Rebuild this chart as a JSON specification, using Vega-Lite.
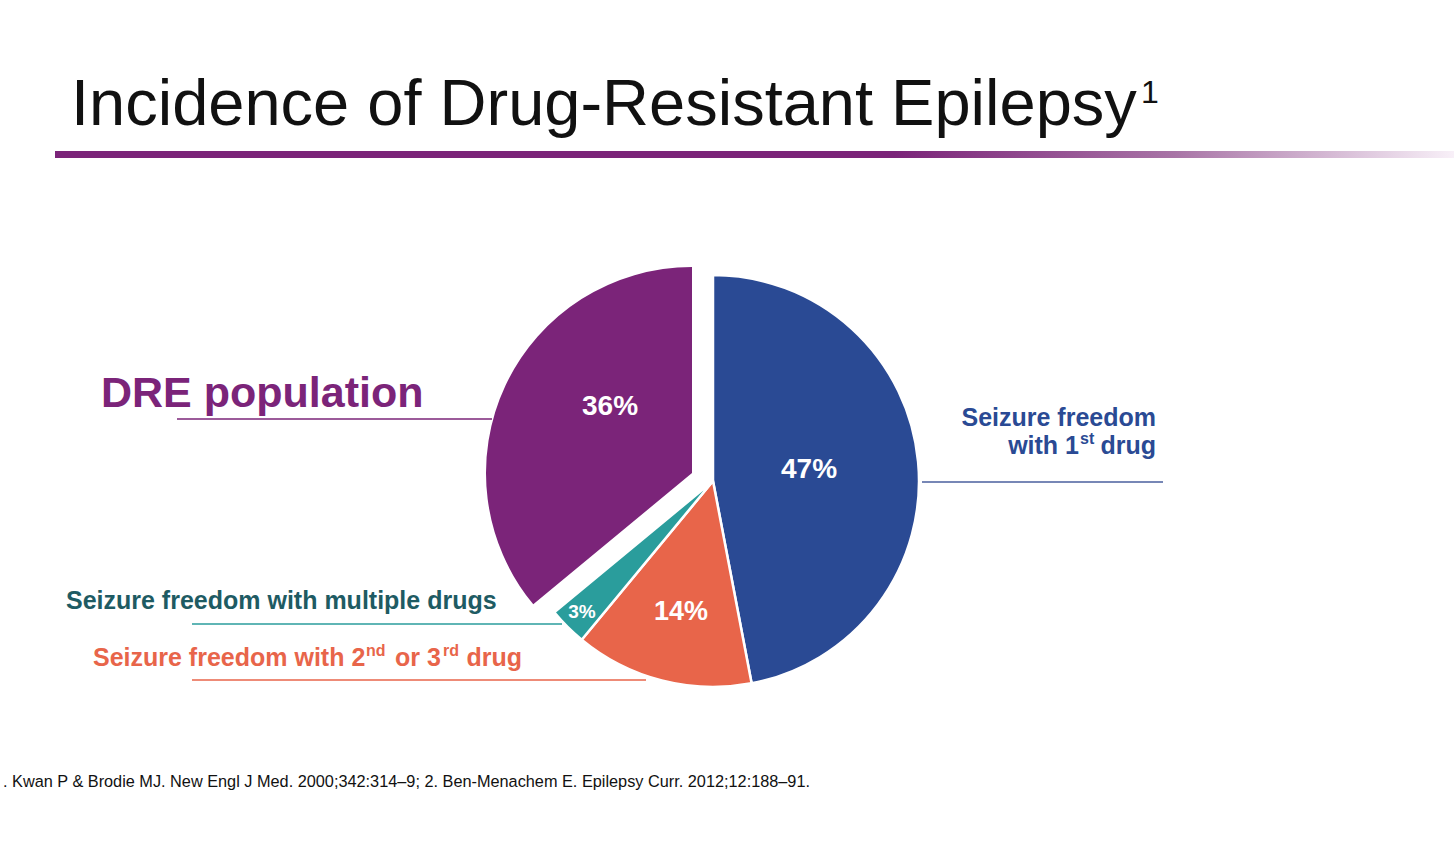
{
  "$schema": "https://vega.github.io/schema/vega-lite/v6.json",
  "width": 1454,
  "height": 857,
  "padding": 0,
  "autosize": {"type": "none"},
  "background": "#ffffff",
  "config": {"view": {"stroke": null}, "text": {"font": "Liberation Sans"}},
  "data": {
    "values": [
      {"category": "Seizure freedom with 1st drug", "value": 47, "order": 1, "pct": "47%"},
      {"category": "Seizure freedom with 2nd or 3rd drug", "value": 14, "order": 2, "pct": "14%"},
      {"category": "Seizure freedom with multiple drugs", "value": 3, "order": 3, "pct": "3%"},
      {"category": "DRE population", "value": 36, "order": 4, "pct": "36%"}
    ]
  },
  "layer": [
    {
      "transform": [{"filter": "datum.order == 1"}],
      "mark": {"type": "rect", "fill": {"gradient": "linear", "x1": 0, "x2": 1, "y1": 0, "y2": 0, "stops": [{"offset": 0, "color": "#7b2479"}, {"offset": 0.6, "color": "#7b2479"}, {"offset": 0.8, "color": "#a874a6"}, {"offset": 1, "color": "#f8f0f8"}]}},
      "encoding": {
        "x": {"datum": 55, "type": "quantitative", "scale": {"domain": [0, 1454], "nice": false, "zero": false}, "axis": null},
        "x2": {"datum": 1454},
        "y": {"datum": 151, "type": "quantitative", "scale": {"domain": [0, 857], "nice": false, "zero": false, "reverse": true}, "axis": null},
        "y2": {"datum": 158}
      }
    },
    {
      "transform": [{"filter": "datum.order == 1"}],
      "mark": {"type": "text", "align": "left", "baseline": "alphabetic", "fontSize": 65, "color": "#111111"},
      "encoding": {
        "x": {"datum": 71, "type": "quantitative"},
        "y": {"datum": 125, "type": "quantitative"},
        "text": {"value": "Incidence of Drug-Resistant Epilepsy"}
      }
    },
    {
      "transform": [{"filter": "datum.order == 1"}],
      "mark": {"type": "text", "align": "left", "baseline": "alphabetic", "fontSize": 32, "color": "#111111"},
      "encoding": {
        "x": {"datum": 1141, "type": "quantitative"},
        "y": {"datum": 103, "type": "quantitative"},
        "text": {"value": "1"}
      }
    },
    {
      "transform": [
        {"stack": "value", "groupby": [], "sort": [{"field": "order", "order": "ascending"}], "as": ["v0", "v1"]},
        {"filter": "datum.order < 4"}
      ],
      "mark": {"type": "arc", "radius": 206, "stroke": "#ffffff", "strokeWidth": 2.5},
      "encoding": {
        "x": {"datum": 713, "type": "quantitative"},
        "y": {"datum": 481, "type": "quantitative"},
        "theta": {"field": "v0", "type": "quantitative", "scale": {"domain": [0, 100], "range": [0, 6.283185307179586]}},
        "theta2": {"field": "v1"},
        "color": {"field": "category", "type": "nominal", "legend": null,
          "scale": {"domain": ["Seizure freedom with 1st drug", "Seizure freedom with 2nd or 3rd drug", "Seizure freedom with multiple drugs", "DRE population"],
                    "range": ["#2a4a94", "#e8654a", "#2a9d9c", "#7b2479"]}}
      }
    },
    {
      "transform": [
        {"stack": "value", "groupby": [], "sort": [{"field": "order", "order": "ascending"}], "as": ["v0", "v1"]},
        {"filter": "datum.order == 4"}
      ],
      "mark": {"type": "arc", "radius": 206},
      "encoding": {
        "x": {"datum": 692, "type": "quantitative"},
        "y": {"datum": 473, "type": "quantitative"},
        "theta": {"field": "v0", "type": "quantitative"},
        "theta2": {"field": "v1"},
        "color": {"field": "category", "type": "nominal", "legend": null}
      }
    },
    {
      "transform": [{"filter": "datum.order == 1"}],
      "mark": {"type": "text", "align": "center", "baseline": "middle", "fontSize": 28, "fontWeight": "bold", "color": "#ffffff"},
      "encoding": {"x": {"datum": 809, "type": "quantitative"}, "y": {"datum": 470, "type": "quantitative"}, "text": {"field": "pct"}}
    },
    {
      "transform": [{"filter": "datum.order == 2"}],
      "mark": {"type": "text", "align": "center", "baseline": "middle", "fontSize": 27, "fontWeight": "bold", "color": "#ffffff"},
      "encoding": {"x": {"datum": 681, "type": "quantitative"}, "y": {"datum": 612, "type": "quantitative"}, "text": {"field": "pct"}}
    },
    {
      "transform": [{"filter": "datum.order == 3"}],
      "mark": {"type": "text", "align": "center", "baseline": "middle", "fontSize": 19, "fontWeight": "bold", "color": "#ffffff"},
      "encoding": {"x": {"datum": 582, "type": "quantitative"}, "y": {"datum": 612, "type": "quantitative"}, "text": {"field": "pct"}}
    },
    {
      "transform": [{"filter": "datum.order == 4"}],
      "mark": {"type": "text", "align": "center", "baseline": "middle", "fontSize": 28, "fontWeight": "bold", "color": "#ffffff"},
      "encoding": {"x": {"datum": 610, "type": "quantitative"}, "y": {"datum": 407, "type": "quantitative"}, "text": {"field": "pct"}}
    },
    {
      "transform": [{"filter": "datum.order == 4"}],
      "mark": {"type": "rule", "color": "#7b2479", "strokeWidth": 1.5},
      "encoding": {"x": {"datum": 177, "type": "quantitative"}, "x2": {"datum": 492}, "y": {"datum": 419, "type": "quantitative"}}
    },
    {
      "transform": [{"filter": "datum.order == 3"}],
      "mark": {"type": "rule", "color": "#2a9d9c", "strokeWidth": 1.5},
      "encoding": {"x": {"datum": 192, "type": "quantitative"}, "x2": {"datum": 562}, "y": {"datum": 624, "type": "quantitative"}}
    },
    {
      "transform": [{"filter": "datum.order == 2"}],
      "mark": {"type": "rule", "color": "#e8654a", "strokeWidth": 1.5},
      "encoding": {"x": {"datum": 192, "type": "quantitative"}, "x2": {"datum": 646}, "y": {"datum": 680, "type": "quantitative"}}
    },
    {
      "transform": [{"filter": "datum.order == 1"}],
      "mark": {"type": "rule", "color": "#4a5f9e", "strokeWidth": 1.5},
      "encoding": {"x": {"datum": 922, "type": "quantitative"}, "x2": {"datum": 1163}, "y": {"datum": 482, "type": "quantitative"}}
    },
    {
      "transform": [{"filter": "datum.order == 4"}],
      "mark": {"type": "text", "align": "left", "baseline": "alphabetic", "fontSize": 43, "fontWeight": "bold", "color": "#7b2479"},
      "encoding": {"x": {"datum": 101, "type": "quantitative"}, "y": {"datum": 407, "type": "quantitative"}, "text": {"field": "category"}}
    },
    {
      "transform": [{"filter": "datum.order == 3"}],
      "mark": {"type": "text", "align": "left", "baseline": "alphabetic", "fontSize": 25, "fontWeight": "bold", "color": "#1e5b63"},
      "encoding": {"x": {"datum": 66, "type": "quantitative"}, "y": {"datum": 609, "type": "quantitative"}, "text": {"field": "category"}}
    },
    {
      "transform": [{"filter": "datum.order == 2"}],
      "mark": {"type": "text", "align": "left", "baseline": "alphabetic", "fontSize": 25, "fontWeight": "bold", "color": "#e8654a"},
      "encoding": {"x": {"datum": 93, "type": "quantitative"}, "y": {"datum": 666, "type": "quantitative"}, "text": {"value": "Seizure freedom with 2"}}
    },
    {
      "transform": [{"filter": "datum.order == 2"}],
      "mark": {"type": "text", "align": "left", "baseline": "alphabetic", "fontSize": 16, "fontWeight": "bold", "color": "#e8654a"},
      "encoding": {"x": {"datum": 366, "type": "quantitative"}, "y": {"datum": 656, "type": "quantitative"}, "text": {"value": "nd"}}
    },
    {
      "transform": [{"filter": "datum.order == 2"}],
      "mark": {"type": "text", "align": "left", "baseline": "alphabetic", "fontSize": 25, "fontWeight": "bold", "color": "#e8654a"},
      "encoding": {"x": {"datum": 395, "type": "quantitative"}, "y": {"datum": 666, "type": "quantitative"}, "text": {"value": "or 3"}}
    },
    {
      "transform": [{"filter": "datum.order == 2"}],
      "mark": {"type": "text", "align": "left", "baseline": "alphabetic", "fontSize": 16, "fontWeight": "bold", "color": "#e8654a"},
      "encoding": {"x": {"datum": 443, "type": "quantitative"}, "y": {"datum": 656, "type": "quantitative"}, "text": {"value": "rd"}}
    },
    {
      "transform": [{"filter": "datum.order == 2"}],
      "mark": {"type": "text", "align": "right", "baseline": "alphabetic", "fontSize": 25, "fontWeight": "bold", "color": "#e8654a"},
      "encoding": {"x": {"datum": 522, "type": "quantitative"}, "y": {"datum": 666, "type": "quantitative"}, "text": {"value": "drug"}}
    },
    {
      "transform": [{"filter": "datum.order == 1"}],
      "mark": {"type": "text", "align": "right", "baseline": "alphabetic", "fontSize": 25, "fontWeight": "bold", "color": "#2a4a94"},
      "encoding": {"x": {"datum": 1156, "type": "quantitative"}, "y": {"datum": 426, "type": "quantitative"}, "text": {"value": "Seizure freedom"}}
    },
    {
      "transform": [{"filter": "datum.order == 1"}],
      "mark": {"type": "text", "align": "right", "baseline": "alphabetic", "fontSize": 25, "fontWeight": "bold", "color": "#2a4a94"},
      "encoding": {"x": {"datum": 1079, "type": "quantitative"}, "y": {"datum": 454, "type": "quantitative"}, "text": {"value": "with 1"}}
    },
    {
      "transform": [{"filter": "datum.order == 1"}],
      "mark": {"type": "text", "align": "left", "baseline": "alphabetic", "fontSize": 16, "fontWeight": "bold", "color": "#2a4a94"},
      "encoding": {"x": {"datum": 1080, "type": "quantitative"}, "y": {"datum": 444, "type": "quantitative"}, "text": {"value": "st"}}
    },
    {
      "transform": [{"filter": "datum.order == 1"}],
      "mark": {"type": "text", "align": "right", "baseline": "alphabetic", "fontSize": 25, "fontWeight": "bold", "color": "#2a4a94"},
      "encoding": {"x": {"datum": 1156, "type": "quantitative"}, "y": {"datum": 454, "type": "quantitative"}, "text": {"value": "drug"}}
    },
    {
      "transform": [{"filter": "datum.order == 1"}],
      "mark": {"type": "text", "align": "left", "baseline": "alphabetic", "fontSize": 16.3, "color": "#111111"},
      "encoding": {"x": {"datum": 3, "type": "quantitative"}, "y": {"datum": 787, "type": "quantitative"}, "text": {"value": ". Kwan P & Brodie MJ. New Engl J Med. 2000;342:314–9; 2. Ben-Menachem E. Epilepsy Curr. 2012;12:188–91."}}
    }
  ]
}
